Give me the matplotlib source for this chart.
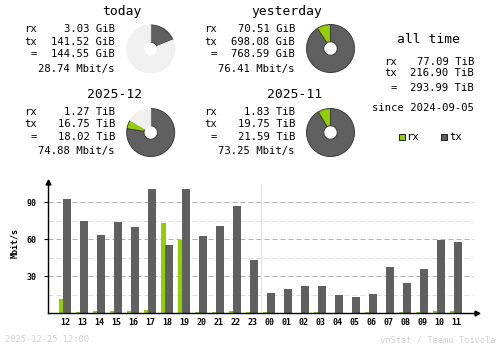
import numpy as np
import matplotlib
matplotlib.use("Agg")
import matplotlib.pyplot as plt
from matplotlib.patches import Rectangle

RX_COLOR = "#92cf00"
TX_COLOR = "#606060"
REST_COLOR = "#f0f0f0"
EDGE = "#3c3c3c"

# summary blocks: title, rx, tx, total, average rate
blocks = [
    ("today",     "3.03 GiB",  "141.52 GiB", "144.55 GiB", "28.74 Mbit/s"),
    ("yesterday", "70.51 GiB", "698.08 GiB", "768.59 GiB", "76.41 Mbit/s"),
    ("2025-12",   "1.27 TiB",  "16.75 TiB",  "18.02 TiB",  "74.88 Mbit/s"),
    ("2025-11",   "1.83 TiB",  "19.75 TiB",  "21.59 TiB",  "73.25 Mbit/s"),
]

# pie values (rx, tx, reference total of previous period)
today_rx, today_tx, yesterday_total = 3.03, 141.52, 768.59
yesterday_rx, yesterday_tx = 70.51, 698.08
dec_rx, dec_tx, nov_total = 1.27, 16.75, 21.59
nov_rx, nov_tx = 1.83, 19.75

alltime_rx = "77.09 TiB"
alltime_tx = "216.90 TiB"
alltime_total = "293.99 TiB"
since = "since 2024-09-05"

# hourly averages, Mbit/s
hours = ["12", "13", "14", "15", "16", "17", "18", "19", "20", "21", "22", "23",
         "00", "01", "02", "03", "04", "05", "06", "07", "08", "09", "10", "11"]
rx_rate = [11.6, 1.0, 1.8, 1.8, 1.8, 2.7, 73.2, 59.4, 1.0, 1.0, 1.8, 1.0,
           1.0, 0.3, 0.3, 1.0, 0.3, 0.3, 1.0, 0.3, 1.0, 1.0, 2.0, 2.0]
tx_rate = [92.7, 74.8, 63.5, 74.0, 70.0, 100.8, 55.4, 100.8, 62.7, 70.8, 87.0, 43.2,
           16.5, 19.7, 22.1, 22.1, 14.8, 13.2, 15.6, 37.5, 24.6, 35.9, 59.4, 57.8]
major_ticks = [30, 60, 90]
minor_ticks = [15, 45, 75]

W, H = 500, 348
plt.rcParams["font.family"] = "DejaVu Sans Mono"
fig = plt.figure(figsize=(W / 100, H / 100), dpi=100)
fig.patch.set_facecolor("white")


def fx(x):
    return x / W


def fy(y):
    return 1 - y / H


def put(x, y, s, ha="left", size=7.6, **kw):
    fig.text(fx(x), fy(y), s, ha=ha, va="center", fontsize=size, **kw)


def donut(cx, cy, values, colors, r=24):
    s = 1.02
    ax = fig.add_axes([fx(cx - r * s), fy(cy + r * s), 2 * r * s / W, 2 * r * s / H])
    wedges, _ = ax.pie(values, colors=colors, startangle=90, counterclock=False,
                       wedgeprops=dict(width=0.72, linewidth=0.7, edgecolor=EDGE))
    for w, c in zip(wedges, colors):
        if c == REST_COLOR:
            w.set_edgecolor(REST_COLOR)
    ax.set_xlim(-s, s)
    ax.set_ylim(-s, s)
    ax.set_aspect("auto")
    ax.axis("off")


# text blocks
offsets = [(0, 0), (180, 0), (0, 82.5), (180, 82.5)]
for (title, rx, tx, tot, rate), (dx, dy) in zip(blocks, offsets):
    put(142 + dx, 12 + dy, title, ha="right", size=9.4)
    put(37 + dx, 29.5 + dy, "rx", ha="right")
    put(37 + dx, 41.8 + dy, "tx", ha="right")
    put(37 + dx, 54.2 + dy, "=", ha="right")
    put(115 + dx, 29.5 + dy, rx, ha="right")
    put(115 + dx, 41.8 + dy, tx, ha="right")
    put(115 + dx, 54.2 + dy, tot, ha="right")
    put(115 + dx, 69 + dy, rate, ha="right")

donut(150.7, 49, [today_tx, today_rx, yesterday_total - today_rx - today_tx],
      [TX_COLOR, RX_COLOR, REST_COLOR])
donut(330.5, 48.5, [yesterday_tx, yesterday_rx], [TX_COLOR, RX_COLOR])
donut(150.7, 132.5, [dec_tx, dec_rx, nov_total - dec_rx - dec_tx],
      [TX_COLOR, RX_COLOR, REST_COLOR])
donut(330.5, 132.5, [nov_tx, nov_rx], [TX_COLOR, RX_COLOR])

# all time block
put(428.7, 39.5, "all time", ha="center", size=9.4)
put(397, 62, "rx", ha="right")
put(397, 73.5, "tx", ha="right")
put(397, 88, "=", ha="right")
put(474, 62, alltime_rx, ha="right")
put(474, 73.5, alltime_tx, ha="right")
put(474, 88, alltime_total, ha="right")
put(474, 108.3, since, ha="right")

for x0, col, lab in [(398.5, RX_COLOR, "rx"), (441, TX_COLOR, "tx")]:
    fig.add_artist(Rectangle((fx(x0), fy(140)), 6 / W, 6 / H, transform=fig.transFigure,
                             facecolor=col, edgecolor="#202020", linewidth=0.7))
    put(x0 + 8, 137, lab)

# hourly chart
x_left, x_right, y_base, y_top = 48, 477, 313.3, 181.7
px_per_unit = 37 / 30
slot = 17
ax = fig.add_axes([fx(x_left), fy(y_base), (x_right - x_left) / W, (y_base - y_top) / H])
ax.set_ylim(0, (y_base - y_top) / px_per_unit)
ax.set_xlim(0, (x_right - x_left) / slot)

x = np.arange(len(hours)) + 1
for v in minor_ticks:
    ax.axhline(v, xmax=0.99, color="#dcdcdc", linewidth=0.72, dashes=(5, 3), zorder=0)
for v in major_ticks:
    ax.axhline(v, xmax=0.99, color="#b0b0b0", linewidth=0.72, dashes=(5, 3), zorder=0)
midnight = hours.index("00") + 0.5
ax.vlines(midnight, 0, 104.8, color="#e0e0e0", linewidth=0.8, zorder=0)

ax.bar(x - 0.38, rx_rate, width=0.294, align="edge", color=RX_COLOR, linewidth=0, zorder=2)
ax.bar(x - 0.09, tx_rate, width=0.47, align="edge", color=TX_COLOR, linewidth=0, zorder=2)

ax.set_xticks(x)
ax.set_xticklabels(hours, fontsize=6.0, fontweight="bold")
ax.set_yticks(major_ticks)
ax.set_yticklabels([str(v) for v in major_ticks], fontsize=6.0, fontweight="bold")
ax.tick_params(axis="x", length=0, pad=3.5)
ax.tick_params(axis="y", length=3, width=0.8, pad=5)
for side in ("top", "right"):
    ax.spines[side].set_visible(False)
for side in ("left", "bottom"):
    ax.spines[side].set_linewidth(1)
ax.plot(0, 1, marker="^", color="black", markersize=3.5, transform=ax.transAxes, clip_on=False)
ax.plot(1, 0, marker=">", color="black", markersize=3.5, transform=ax.transAxes, clip_on=False)
put(14.5, 243, "Mbit/s", ha="center", size=6.0, rotation=90, fontweight="bold")

# footer
put(5, 340, "2025-12-25 12:00", size=6.3, color="#d0d0d0")
put(495, 340, "vnStat / Teemu Toivola", ha="right", size=6.3, color="#d0d0d0")

fig.savefig("out.png", dpi=100, facecolor="white")
